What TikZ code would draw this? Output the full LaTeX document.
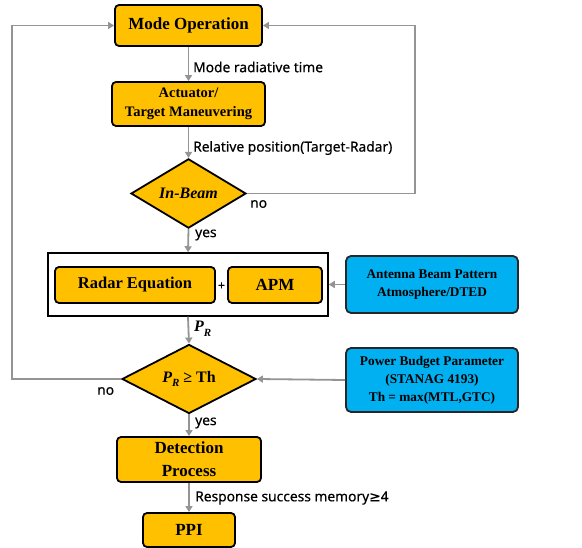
\documentclass[tikz,border=0pt]{standalone}
\usepackage{fontspec}
\setmainfont{Liberation Serif}
\newfontfamily\labfont[FakeBold=0.4]{Noto Sans}
\newfontfamily\djfont[FakeBold=0.4]{DejaVu Sans}
\usetikzlibrary{shapes.geometric,arrows.meta}
\definecolor{orng}{HTML}{FFC000}
\definecolor{skyb}{HTML}{00B0F0}
\definecolor{arrg}{HTML}{949494}
\newcommand{\PRsym}{{\bfseries\itshape P\raisebox{-0.28em}{\fontsize{11}{12}\selectfont R}}}
\tikzset{
  obox/.style={draw=black, line width=1.8pt, rounded corners=4pt, fill=orng, align=center, inner sep=0pt, font=\bfseries},
  bbox/.style={draw=black!85, line width=1.8pt, rounded corners=5pt, fill=skyb, align=center, inner sep=0pt, font=\bfseries\fontsize{13.3}{18}\selectfont},
  dbox/.style={draw=black, line width=1.8pt, diamond, fill=orng, inner sep=0pt, align=center},
  flow/.style={draw=arrg, line width=1.8pt, -{Triangle[width=7pt,length=6pt]}},
  lab/.style={anchor=west, inner sep=0pt, font=\labfont\fontsize{13.8}{15}\selectfont}
}
\begin{document}
\begin{tikzpicture}[x=1pt,y=-1pt]
\useasboundingbox (0,0) rectangle (582,548);
\node[obox, minimum width=147pt, minimum height=41pt, font=\bfseries\fontsize{17}{20}\selectfont] (mode) at (188.5,25.5) {Mode Operation};
\node[obox, minimum width=153pt, minimum height=44pt, font=\bfseries\fontsize{14.5}{19}\selectfont] (act) at (188.5,104) {Actuator/\\Target Maneuvering};
\node[dbox, minimum width=115pt, minimum height=61pt, font=\bfseries\itshape\fontsize{16}{18}\selectfont] (inb) at (188.5,193.5) {In-Beam};
\node[draw=black, line width=1.5pt, fill=white, minimum width=280pt, minimum height=63pt, inner sep=0pt] (big) at (188,284.5) {};
\node[obox, minimum width=160pt, minimum height=36pt, font=\bfseries\fontsize{16.5}{19}\selectfont] (radar) at (135,285) {Radar Equation};
\node[obox, minimum width=94pt, minimum height=36pt, font=\bfseries\fontsize{17}{19}\selectfont] (apm) at (275,285) {APM};
\node[inner sep=0pt, font=\labfont\fontsize{12}{14}\selectfont] (plus) at (221.5,286) {+};
\node[bbox, minimum width=172pt, minimum height=57pt] (ant) at (432,284.5) {Antenna Beam Pattern\\Atmosphere/DTED};
\node[dbox, minimum width=134pt, minimum height=56pt, font=\bfseries\fontsize{16}{18}\selectfont] (prth) at (189,379) {\PRsym{} ≥ Th};
\node[bbox, minimum width=172pt, minimum height=64pt] (pow) at (432,380) {Power Budget Parameter\\(STANAG 4193)\\Th = max(MTL,GTC)};
\node[obox, minimum width=144pt, minimum height=45pt, font=\bfseries\fontsize{17}{23}\selectfont] (det) at (189,459.5) {Detection\\Process};
\node[obox, minimum width=92pt, minimum height=34pt, font=\bfseries\fontsize{17}{19}\selectfont] (ppi) at (189,530) {PPI};
\coordinate (lb) at (12,379);
\coordinate (rb) at (415,193.5);
\draw[flow] (mode.south) -- (act.north);
\draw[flow] (act.south) -- (inb.north);
\draw[flow] (inb.south) -- (big.north);
\draw[flow] (big.south) -- (prth.north);
\draw[flow] (prth.south) -- (det.north);
\draw[flow] (det.south) -- (ppi.north);
\draw[flow] (ant.west) -- (big.east);
\draw[flow] (pow.west) -- (prth.east);
\draw[flow] (prth.west) -- (lb) |- (mode.west);
\draw[flow] (inb.east) -- (rb) |- (mode.east);
\node[lab] (l1) at (193,67) {Mode radiative time};
\node[lab] (l2) at (193,148) {Relative position(Target-Radar)};
\node[lab] (l3) at (250,204) {no};
\node[lab] (l4) at (195,235) {yes};
\node[anchor=west, inner sep=0pt, font=\fontsize{16}{18}\selectfont] (l5) at (194,329) {\PRsym};
\node[lab] (l6) at (97,391) {no};
\node[lab] (l7) at (195,423) {yes};
\node[lab] (l8) at (195,498) {Response success memory{\djfont ≥}4};
\end{tikzpicture}
\end{document}
